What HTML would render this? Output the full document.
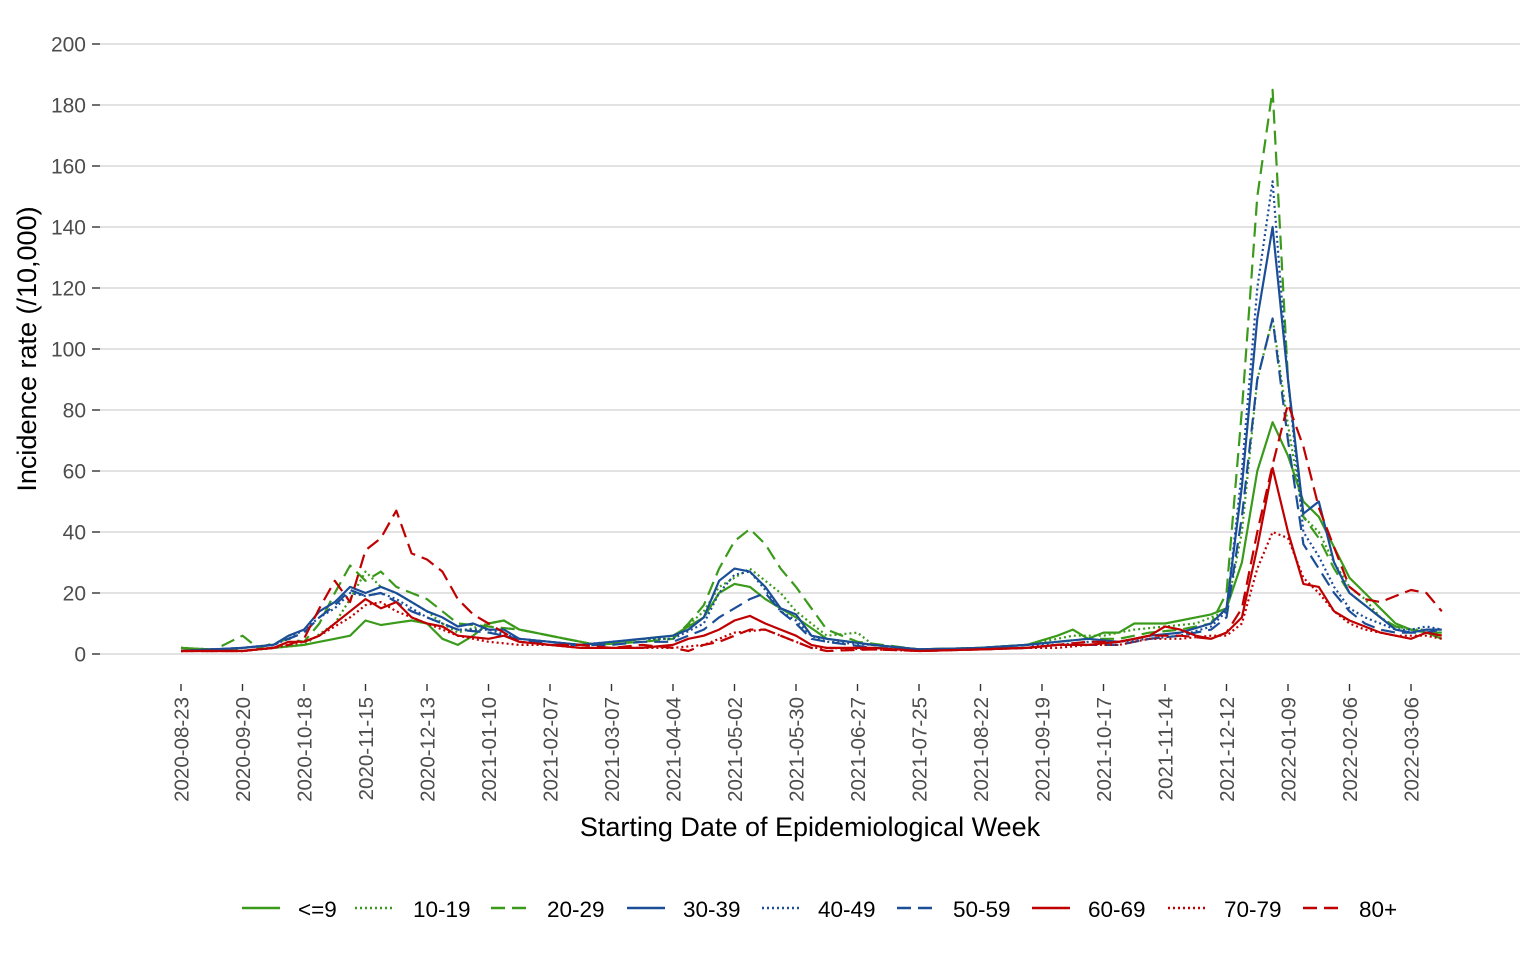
<!DOCTYPE html>
<html><head><meta charset="utf-8"><style>
html,body{margin:0;padding:0;background:#fff;}
svg{display:block;font-family:"Liberation Sans",Arial,sans-serif;}
</style></head><body>
<svg id="s" width="1536" height="960" viewBox="0 0 1536 960" xmlns="http://www.w3.org/2000/svg">
<g id="grid" stroke="#d0d0d0" stroke-width="1.3"></g>
<g id="yt" stroke="#333" stroke-width="1.4"></g>
<g id="yl" font-size="21" fill="#4d4d4d" text-anchor="end"></g>
<g id="xt" stroke="#333" stroke-width="1.4"></g>
<g id="xl" font-size="20.5" fill="#4d4d4d" text-anchor="end"></g>
<g id="series" fill="none" stroke-width="2.2"></g>
<text x="810" y="836" font-size="27" text-anchor="middle" fill="#000">Starting Date of Epidemiological Week</text>
<text transform="translate(36,349) rotate(-90)" font-size="27" text-anchor="middle" fill="#000">Incidence rate (/10,000)</text>
<g id="leg" font-size="22.5" fill="#000"></g>
</svg>
<script>
var NS="http://www.w3.org/2000/svg";
function el(p,t,a,txt){var e=document.createElementNS(NS,t);for(var k in a)e.setAttribute(k,a[k]);if(txt)e.textContent=txt;document.getElementById(p).appendChild(e);return e;}
function Y(v){return 654-v*3.05;}
function X(w){return 181+w*15.375;}
for(var v=0;v<=200;v+=20){el("grid","line",{x1:100,x2:1520,y1:Y(v),y2:Y(v)});el("yt","line",{x1:92,x2:100,y1:Y(v),y2:Y(v)});el("yl","text",{x:86,y:Y(v)+7.5},String(v));}
var dates=["2020-08-23","2020-09-20","2020-10-18","2020-11-15","2020-12-13","2021-01-10","2021-02-07","2021-03-07","2021-04-04","2021-05-02","2021-05-30","2021-06-27","2021-07-25","2021-08-22","2021-09-19","2021-10-17","2021-11-14","2021-12-12","2022-01-09","2022-02-06","2022-03-06"];
dates.forEach(function(d,i){var x=X(i*4);el("xt","line",{x1:x,x2:x,y1:684,y2:691});el("xl","text",{transform:"translate("+(x+7.5)+",697) rotate(-90)"},d);});
var G="#3a9a1a",B="#1c4e98",R="#c00000";
var S=[
[G,"",{0:2,4:1,8:3,10:5,11:6,12:11,13:9.5,15:11,16:10,17:5,18:3,19:6,20:10,21:11,22:8,25:5,27:3,30:5,32:6,34:12,35:20,36:23,37:22,38:18,39:15,40:12,42:5,45:3,48:1.5,52:2,55:3,57:6,58:8,59:5,60:7,61:7,62:10,64:10,65:11,67:13,68:15,69:30,70:60,71:76,72:65,73:50,74:45,75:35,76:25,77:20,78:15,79:10,80:8,81:7,82:5}],
[G,"2,3",{0:2,4:1,8:3,10:10,11:18,12:27,13:22,14:20,15:17,16:14,17:10,18:7,20:10,21:11,22:8,25:5,27:3,30:5,32:5,34:14,35:22,36:25,37:28,38:24,39:20,40:14,42:6,44:7,45:3,48:1.5,52:2,55:3,57:5,58:6,60:6,62:8,64:9,66:10,68:14,69:40,70:90,71:110,72:75,73:45,74:40,75:30,76:22,77:18,78:12,79:9,80:8,81:8,82:6}],
[G,"14,7",{0:2,2:1,4:6,5:2,7:5,8:4,9:10,10:20,11:29,12:24,13:27,14:22,15:20,16:18,17:14,18:10,20:9,22:8,25:5,27:3,30:4,32:5,33:10,34:16,35:28,36:37,37:41,38:36,39:28,40:22,41:15,42:8,44:4,48:1.5,52:2,55:3,57:4,59:5,61:5,63:7,65:8,67:10,68:20,69:80,70:150,71:185,72:90,73:45,74:38,75:28,76:20,77:16,78:12,79:9,80:8,81:7,82:7}],
[B,"",{0:1,4:2,6:3,7:6,8:8,9:14,10:17,11:22,12:20,13:22,14:20,15:17,16:14,17:12,18:9,19:10,20:8,21:8,22:5,24:4,26:3,28:4,30:5,32:6,33:8,34:12,35:24,36:28,37:27,38:22,39:15,40:13,41:6,42:5,45:3,48:1.5,52:2,55:3,57:4,59:5,61:4,63:6,65:7,67:10,68:15,69:55,70:110,71:140,72:90,73:46,74:50,75:30,76:20,77:16,78:12,79:8,80:7,81:8,82:8}],
[B,"2,3",{0:1,4:2,6:3,7:5,8:8,9:12,10:15,11:20,12:19,13:20,14:18,15:15,16:12,17:10,18:8,20:8,22:5,24:4,26:3,28:4,30:5,32:5,34:10,35:20,36:26,37:27,38:21,39:14,40:11,41:6,42:4,45:3,48:1.5,52:2,55:3,57:3,59:4,61:4,63:5,65:6,67:9,68:14,69:60,70:120,71:155,72:90,73:40,74:32,75:22,76:15,77:12,78:10,79:8,80:8,81:9,82:8}],
[B,"14,7",{0:1,4:2,6:3,7:5,8:7,9:12,10:16,11:21,12:19,13:20,14:17,15:14,16:12,17:10,18:8,20:7,22:5,24:3,26:3,28:3,30:4,32:4,34:8,35:12,36:15,37:18,38:20,39:14,40:10,41:5,42:4,45:2,48:1.5,52:1.5,55:2,57:3,59:3,61:3,63:5,65:6,67:8,68:12,69:45,70:90,71:110,72:70,73:36,74:28,75:20,76:14,77:10,78:8,79:7,80:7,81:7,82:8}],
[R,"",{0:1,4:1,6:2,7:4,8:4,9:6,10:10,11:14,12:18,13:15,14:17,15:12,16:10,17:9,18:6,20:5,21:6,22:4,24:3,26:2,28:2,30:2,32:3,33:5,34:6,35:8,36:11,37:12.5,38:10,39:8,40:6,41:3,42:2,45:2,48:1,52:1.5,55:2,57:3,59:3,61:4,63:6,64:9,65:8,66:6,67:5,68:7,69:12,70:35,71:61,72:40,73:23,74:22,75:14,76:11,77:9,78:7,79:6,80:5,81:7,82:6}],
[R,"2,3",{0:1,4:1,6:2,7:3,8:4,9:6,10:9,11:12,12:16,13:17,14:14,15:12,16:10,17:8,18:6,20:4,22:3,24:3,26:2,28:2,30:2,32:2,34:3,35:5,36:7,37:7.5,38:8,39:6,40:4,41:2,42:2,45:1.5,48:1,52:1.5,55:2,57:2,59:3,61:3,63:5,65:5,67:6,68:6,69:10,70:28,71:40,72:38,73:25,74:20,75:14,76:10,77:8,78:7,79:6,80:6,81:6,82:5}],
[R,"14,7",{0:1,4:1,6:2,7:3,8:5,9:15,10:24,11:17,12:34,13:38,14:47,15:33,16:31,17:27,18:18,19:13,20:10,21:7,22:4,24:3,26:3,28:2,30:3,32:2,33:1,34:3,35:4,36:6,37:8,38:8,39:6,40:4,41:2,42:1,45:1.5,48:1,52:1.5,55:2,57:3,59:4,61:4,63:6,65:6,67:5,68:7,69:15,70:40,71:62,72:82,73:68,74:48,75:35,76:22,77:18,78:17,79:19,80:21,81:20,82:14}]
];
S.forEach(function(s){var k=s[2],ks=Object.keys(k).map(Number).sort(function(a,b){return a-b;}),d="";
for(var w=0;w<=82;w++){var v;if(k[w]!==undefined)v=k[w];else{var a=0,b=82;ks.forEach(function(q){if(q<w)a=q;});for(var i=ks.length-1;i>=0;i--)if(ks[i]>w)b=ks[i];v=k[a]+(k[b]-k[a])*(w-a)/(b-a);}
d+=(w?"L":"M")+X(w).toFixed(1)+","+Y(v).toFixed(1);}
var a={d:d,stroke:s[0],"stroke-linejoin":"round"};if(s[1])a["stroke-dasharray"]=s[1];el("series","path",a);});
var L=[["<=9",242,298,0],["10-19",355,413,1],["20-29",491,547,2],["30-39",627,683,3],["40-49",762,818,4],["50-59",897,953,5],["60-69",1032,1088,6],["70-79",1168,1224,7],["80+",1303,1359,8]];
L.forEach(function(l){var s=S[l[3]],a={x1:l[1],x2:l[1]+38,y1:908,y2:908,stroke:s[0],"stroke-width":2.5};if(s[1])a["stroke-dasharray"]=s[1];el("leg","line",a);el("leg","text",{x:l[2],y:917},l[0]);});
</script>
</body></html>
